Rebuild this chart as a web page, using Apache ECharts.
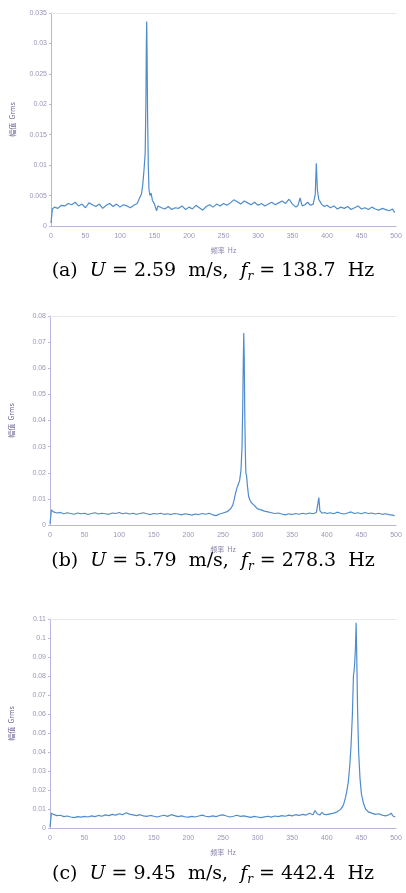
<!DOCTYPE html>
<html>
<head>
<meta charset="utf-8">
<script src="https://cdn.jsdelivr.net/npm/echarts@6/dist/echarts.min.js"></script>
<style>
  html, body { margin: 0; padding: 0; background: #fff; }
  #main { width: 406px; height: 893px; }
</style>
</head>
<body>
<div id="main"></div>
<script>
// spectra, [frequency Hz, amplitude]
const specA = [
  [0,0.0005],[2,0.0028],[5,0.0031],[10,0.0029],[15,0.0034],[20,0.0033],[25,0.0037],[30,0.0035],
  [35,0.0039],[40,0.0033],[45,0.0036],[50,0.0030],[55,0.0038],[60,0.0035],[65,0.0032],[70,0.0036],
  [75,0.0029],[80,0.0034],[85,0.0037],[90,0.0032],[95,0.0036],[100,0.0031],[105,0.0035],[110,0.0033],
  [115,0.0030],[120,0.0034],[125,0.0037],[128,0.0045],[131,0.0052],[133,0.0068],[135,0.0095],
  [136.5,0.0120],[137.5,0.0200],[138.2,0.0300],[138.7,0.0336],[139.2,0.0290],[140,0.0180],
  [141,0.0100],[142,0.0060],[143.5,0.0050],[145,0.0054],[147,0.0042],[150,0.0036],[153,0.0025],
  [155,0.0033],[160,0.0030],[165,0.0028],[170,0.0032],[175,0.0027],[180,0.0030],[185,0.0029],
  [190,0.0033],[195,0.0027],[200,0.0031],[205,0.0028],[210,0.0034],[215,0.0030],[220,0.0026],
  [225,0.0032],[230,0.0035],[235,0.0031],[240,0.0036],[245,0.0033],[250,0.0037],[255,0.0034],
  [260,0.0038],[265,0.0043],[270,0.0040],[275,0.0036],[280,0.0041],[285,0.0038],[290,0.0035],
  [295,0.0039],[300,0.0034],[305,0.0037],[310,0.0033],[315,0.0036],[320,0.0039],[325,0.0035],
  [330,0.0038],[335,0.0041],[340,0.0037],[345,0.0044],[350,0.0036],[355,0.0031],[358,0.0034],
  [361,0.0046],[364,0.0033],[368,0.0035],[372,0.0039],[376,0.0034],[380,0.0036],[383,0.0052],
  [384.5,0.0103],[386,0.0060],[388,0.0044],[392,0.0036],[396,0.0032],[400,0.0034],[405,0.0030],
  [410,0.0033],[415,0.0028],[420,0.0031],[425,0.0029],[430,0.0032],[435,0.0027],[440,0.0030],
  [445,0.0033],[450,0.0028],[455,0.0030],[460,0.0027],[465,0.0031],[470,0.0028],[475,0.0026],
  [480,0.0029],[485,0.0027],[490,0.0025],[495,0.0028],[498,0.0022]
];
const specB = [
  [0,0.0005],[2,0.0058],[5,0.0050],[10,0.0046],[15,0.0048],[20,0.0043],[25,0.0047],[30,0.0044],
  [35,0.0041],[40,0.0046],[45,0.0043],[50,0.0045],[55,0.0040],[60,0.0044],[65,0.0047],[70,0.0042],
  [75,0.0045],[80,0.0043],[85,0.0041],[90,0.0046],[95,0.0044],[100,0.0048],[105,0.0043],[110,0.0046],
  [115,0.0042],[120,0.0045],[125,0.0041],[130,0.0044],[135,0.0047],[140,0.0043],[145,0.0040],
  [150,0.0044],[155,0.0042],[160,0.0045],[165,0.0041],[170,0.0043],[175,0.0040],[180,0.0044],
  [185,0.0042],[190,0.0039],[195,0.0043],[200,0.0041],[205,0.0038],[210,0.0042],[215,0.0040],
  [220,0.0044],[225,0.0041],[230,0.0045],[235,0.0039],[240,0.0036],[245,0.0042],[250,0.0046],
  [255,0.0050],[258,0.0055],[261,0.0062],[264,0.0075],[266,0.0095],[268,0.0120],[270,0.0140],
  [272,0.0155],[274,0.0170],[276,0.0210],[277.5,0.0300],[278.5,0.0450],[279.3,0.0620],
  [280,0.0735],[280.7,0.0640],[281.5,0.0420],[282.3,0.0280],[283,0.0200],[284,0.0190],
  [285.5,0.0145],[287,0.0110],[289,0.0095],[291,0.0085],[294,0.0078],[297,0.0070],[300,0.0062],
  [305,0.0058],[310,0.0053],[315,0.0050],[320,0.0047],[325,0.0044],[330,0.0046],[335,0.0042],
  [340,0.0039],[345,0.0043],[350,0.0040],[355,0.0044],[360,0.0041],[365,0.0045],[370,0.0042],
  [375,0.0046],[380,0.0043],[385,0.0048],[387,0.0050],[388.5,0.0105],[390,0.0055],[393,0.0045],
  [397,0.0048],[400,0.0044],[405,0.0047],[410,0.0043],[415,0.0049],[420,0.0045],[425,0.0042],
  [430,0.0046],[435,0.0050],[440,0.0044],[445,0.0047],[450,0.0043],[455,0.0048],[460,0.0044],
  [465,0.0046],[470,0.0042],[475,0.0045],[480,0.0041],[485,0.0043],[490,0.0040],[495,0.0038],
  [498,0.0036]
];
const specC = [
  [0,0.0005],[2,0.0078],[5,0.0072],[10,0.0065],[15,0.0067],[20,0.0060],[25,0.0063],[30,0.0058],
  [35,0.0055],[40,0.0060],[45,0.0057],[50,0.0061],[55,0.0058],[60,0.0064],[65,0.0060],[70,0.0066],
  [75,0.0062],[80,0.0069],[85,0.0065],[90,0.0072],[95,0.0068],[100,0.0075],[105,0.0070],
  [110,0.0080],[115,0.0073],[120,0.0069],[125,0.0065],[130,0.0070],[135,0.0064],[140,0.0061],
  [145,0.0066],[150,0.0062],[155,0.0058],[160,0.0063],[165,0.0067],[170,0.0061],[175,0.0070],
  [180,0.0065],[185,0.0060],[190,0.0064],[195,0.0059],[200,0.0057],[205,0.0061],[210,0.0058],
  [215,0.0063],[220,0.0068],[225,0.0062],[230,0.0059],[235,0.0064],[240,0.0060],[245,0.0066],
  [250,0.0069],[255,0.0063],[260,0.0058],[265,0.0062],[270,0.0067],[275,0.0061],[280,0.0064],
  [285,0.0060],[290,0.0056],[295,0.0061],[300,0.0058],[305,0.0055],[310,0.0059],[315,0.0062],
  [320,0.0057],[325,0.0063],[330,0.0060],[335,0.0065],[340,0.0062],[345,0.0068],[350,0.0064],
  [355,0.0070],[360,0.0066],[365,0.0072],[370,0.0068],[375,0.0078],[380,0.0070],[383,0.0092],
  [386,0.0075],[390,0.0068],[393,0.0082],[396,0.0072],[400,0.0070],[405,0.0074],[410,0.0078],
  [415,0.0085],[420,0.0098],[424,0.0120],[427,0.0160],[429,0.0195],[431,0.0240],[433,0.0320],
  [435,0.0430],[437,0.0600],[438.5,0.0800],[439.5,0.0830],[440.5,0.0880],[441.5,0.0960],
  [442.4,0.1080],[443.3,0.0900],[444.5,0.0620],[446,0.0400],[448,0.0260],[450,0.0180],
  [453,0.0130],[456,0.0100],[460,0.0085],[465,0.0078],[470,0.0072],[475,0.0075],[480,0.0068],
  [485,0.0064],[490,0.0070],[493,0.0078],[496,0.0062],[499,0.0058]
];

const yMax = [0.035, 0.08, 0.11];
const yStep = [0.005, 0.01, 0.01];
const captions = [
  ['(a)', '2.59', '138.7'],
  ['(b)', '5.79', '278.3'],
  ['(c)', '9.45', '442.4']
];

const grids = [
  { left: 51, top: 13, width: 345, height: 213 },
  { left: 48, top: 316, width: 348, height: 209 },
  { left: 48, top: 619, width: 348, height: 209 }
];
const captionY = [270, 560, 873];

const labelColor = '#9b95b8';
const axisColor = '#b9b5dc';

const xAxes = [];
const yAxes = [];
const series = [];
const graphics = [];
[specA, specB, specC].forEach((spec, i) => {
  xAxes.push({
    gridIndex: i, type: 'value', min: 0, max: 500, interval: 50,
    name: '频率  Hz', nameLocation: 'middle', nameGap: 21,
    nameTextStyle: { fontSize: 7, color: '#8a84a8', fontFamily: 'Noto Sans CJK SC' },
    axisLine: { lineStyle: { color: axisColor, width: 1 } },
    axisTick: { show: false },
    axisLabel: { fontSize: 7, color: labelColor, margin: 7 },
    splitLine: { show: false }
  });
  // faint frame line along the top of each plot
  xAxes.push({
    gridIndex: i, type: 'value', min: 0, max: 500, position: 'top',
    axisLine: { lineStyle: { color: '#e8e8ee', width: 1 } },
    axisTick: { show: false }, axisLabel: { show: false }, splitLine: { show: false }
  });
  yAxes.push({
    gridIndex: i, type: 'value', min: 0, max: yMax[i], interval: yStep[i],
    name: '幅值  Grms', nameLocation: 'middle', nameGap: 35, nameRotate: 90,
    nameTextStyle: { fontSize: 7, color: '#6e6292', fontFamily: 'Noto Sans CJK SC' },
    axisLine: { show: true, lineStyle: { color: axisColor, width: 1 } },
    axisTick: { show: true, length: 2, lineStyle: { color: axisColor } },
    axisLabel: { fontSize: 7, color: labelColor, margin: 4 },
    splitLine: { show: false }
  });
  series.push({
    type: 'line', xAxisIndex: i * 2, yAxisIndex: i, data: spec,
    symbol: 'none', lineStyle: { color: '#4e8ccd', width: 1.2 }
  });
  const c = captions[i];
  graphics.push({
    type: 'text', x: 213, y: captionY[i] - 11,
    style: {
      align: 'center',
      text: '{n|' + c[0] + '  }{i|U}{n| = ' + c[1] + '  m/s,  }{i|f}{s|r}{n| = ' + c[2] + '  Hz}',
      rich: {
        n: { fontSize: 19, fontFamily: 'DejaVu Serif', color: '#000', lineHeight: 24 },
        i: { fontSize: 19, fontFamily: 'DejaVu Serif', fontStyle: 'italic', color: '#000', lineHeight: 24 },
        s: { fontSize: 12, fontFamily: 'DejaVu Serif', fontStyle: 'italic', color: '#000', lineHeight: 24, verticalAlign: 'bottom', padding: [6, 0, 0, 0] }
      }
    }
  });
});

const option = {
  backgroundColor: '#fff',
  animation: false,
  grid: grids,
  xAxis: xAxes,
  yAxis: yAxes,
  series: series,
  graphic: graphics
};

const chart = echarts.init(document.getElementById('main'));
chart.setOption(option);
</script>
</body>
</html>
